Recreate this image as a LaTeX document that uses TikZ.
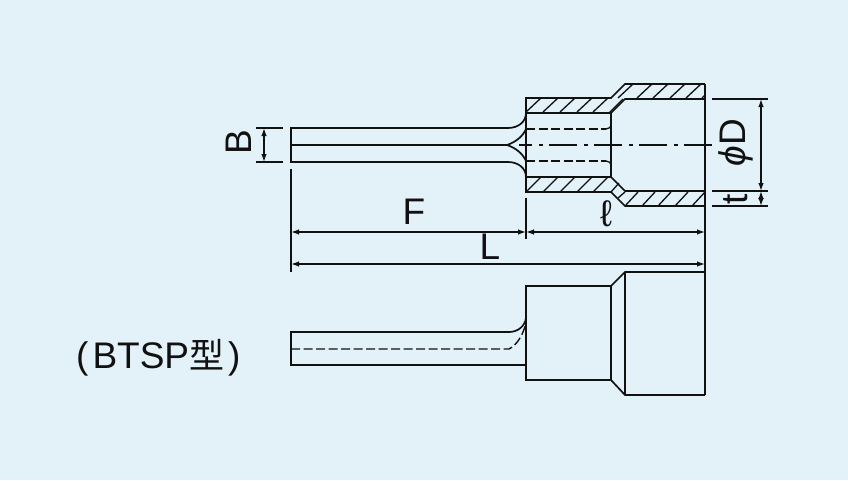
\documentclass[tikz,border=0pt]{standalone}
\usepackage{fontspec}
\setmainfont{Liberation Sans}
\newfontfamily\cjkfont{Noto Sans CJK JP}
\usetikzlibrary{arrows.meta}
\definecolor{bgblue}{HTML}{E3F1F9}
\definecolor{inkline}{HTML}{111111}
\tikzset{
    part/.style={line width=1.7pt, draw=inkline},
    hatchline/.style={line width=1.3pt, draw=inkline},
    hidden/.style={line width=1.4pt, draw=inkline, dash pattern=on 9pt off 3.5pt},
    centerline/.style={line width=1.3pt, draw=inkline, dash pattern=on 28pt off 6.5pt on 4pt off 6.5pt},
    dimline/.style={line width=1.3pt, draw=inkline},
    dimarrow/.style={dimline, {Latex[length=8pt,width=5.5pt]}-{Latex[length=8pt,width=5.5pt]}},
    dimtext/.style={text=inkline, font=\fontsize{37}{37}\selectfont, inner sep=0pt}
}
\begin{document}
\begin{tikzpicture}[x=1pt,y=-1pt]
    \fill[bgblue] (0,0) rectangle (848,480);
    \useasboundingbox (0,0) rectangle (848,480);

    % Section view: pin
    \draw[part] (508,128) -- (291,128) -- (291,162) -- (508,162);
    \draw[part] (291,145) -- (507,145);
    \draw[part] (508,128) .. controls (518,128) and (526,122) .. (526,113);
    \draw[part] (508,162) .. controls (518,162) and (526,168) .. (526,177);
    \draw[part] (526,129) .. controls (523,136) and (516,142) .. (507,145);
    \draw[part] (526,161) .. controls (523,154) and (516,148) .. (507,145);

    % Section view: sleeve
    \draw[part] (526,113) -- (526,98) -- (611,98) -- (625,84) -- (705,84);
    \draw[part] (526,177) -- (526,192) -- (611,192) -- (625,206) -- (705,206);
    \draw[part] (526,113) rectangle (611,177);
    \draw[part] (611,113) -- (625,99) -- (705,99);
    \draw[hatchline] (609,113) -- (623,99);
    \draw[part] (611,177) -- (625,191) -- (705,191);
    \draw[part] (705,84) -- (705,395);

    % Hatching
    \foreach \x in {526,543,560,577,593} {
        \draw[hatchline] (\x,112) -- ++(15,-14);
        \draw[hatchline] (\x,192) -- ++(15,-15);
    }
    \foreach \x in {618,637,653,670,686} \draw[hatchline] (\x,98) -- ++(15,-14);
    \draw[hatchline] (702,98) -- (705,95);
    \foreach \x in {625,642,658,675,692} \draw[hatchline] (\x,206) -- ++(13,-14);
    \draw[hatchline] (619,183) -- (611,192);
    \draw[hatchline] (625,192) -- (618,198);

    % Hidden lines
    \draw[hidden] (526,129) -- (606,129);
    \draw[hidden] (526,161) -- (606,161);
    \draw[hatchline] (606,129) .. controls (609,129) and (611,127) .. (611,125);
    \draw[hatchline] (606,161) .. controls (609,161) and (611,163) .. (611,165);
    \draw[centerline] (712,145) -- (519,145);

    % Dimensions
    \draw[dimline] (256,128) -- (283,128);
    \draw[dimline] (256,162) -- (283,162);
    \draw[dimarrow] (264,128) -- (264,162);
    \draw[dimline] (291,169) -- (291,272);
    \draw[dimline] (526,198) -- (526,239);
    \draw[dimarrow] (291,232) -- (526,232);
    \draw[dimarrow] (526,232) -- (705,232);
    \draw[dimarrow] (291,264) -- (705,264);
    \draw[dimline] (712,99) -- (768,99);
    \draw[dimline] (712,191) -- (768,191);
    \draw[dimline] (712,206) -- (768,206);
    \draw[dimarrow] (761,99) -- (761,191);
    \draw[dimarrow] (761,191) -- (761,206);

    \node[dimtext, rotate=90] (labelB) at (239,142) {B};
    \node[dimtext] (labelF) at (414,212) {F};
    \node[dimtext] (labelL) at (490,247) {L};
    \node[dimtext] (labelEll) at (606,214) {ℓ};
    \node[dimtext, rotate=90, anchor=base] (labelD) at (745,142.5) {{\itshape ϕ}D};
    \node[dimtext, rotate=90] (labelT) at (736,199) {t};

    % Outside view
    \draw[part] (526,318) -- (526,286) -- (611,286) -- (625,272) -- (705,272);
    \draw[part] (526,318) -- (526,380) -- (611,380) -- (625,395) -- (705,395);
    \draw[part] (611,286) -- (611,380);
    \draw[part] (625,272) -- (625,395);
    \draw[part] (509,332) -- (291,332) -- (291,365) -- (526,365);
    \draw[part] (509,332) .. controls (518,332) and (525,326) .. (526,318);
    \draw[hidden] (291,349) -- (509,349) .. controls (517,345) and (523,335) .. (526,323);

    \node[dimtext, anchor=west] (labelType) at (76,358) {(\kern4pt BTSP{\cjkfont\fontsize{35}{35}\selectfont 型}\kern4pt)};
\end{tikzpicture}
\end{document}
